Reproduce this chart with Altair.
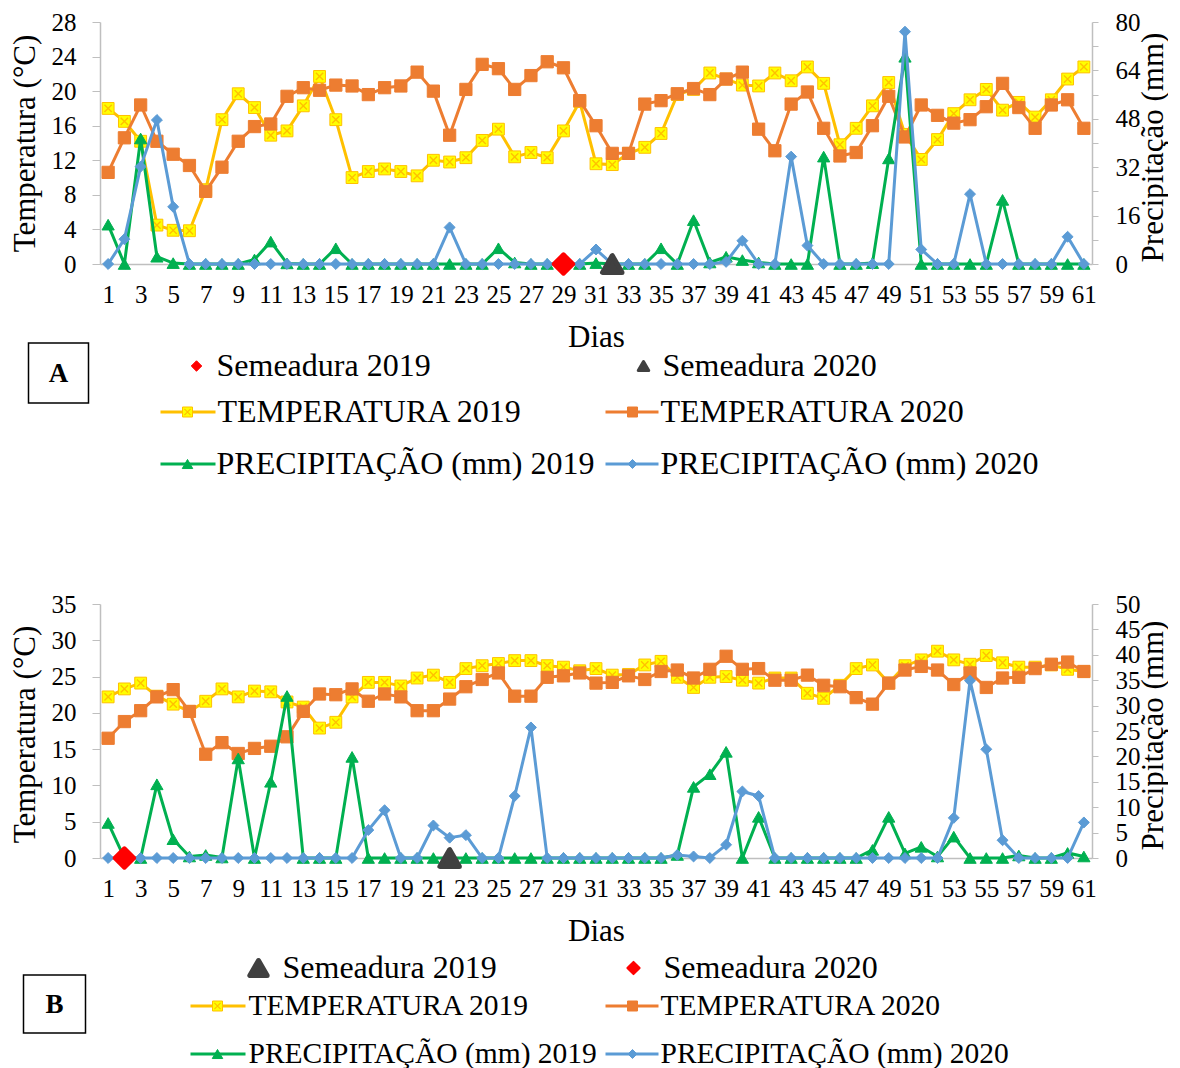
import altair as alt
import pandas as pd

# ---------------- data ----------------
dias = list(range(1, 62))

temp_2019_A = [18.0, 16.5, 14.2, 4.5, 3.9, 3.85, 8.6, 16.7, 19.7, 18.1,
               14.9, 15.4, 18.3, 21.7, 16.7, 10.0, 10.7, 11.0, 10.7, 10.2,
               12.0, 11.8, 12.3, 14.3, 15.6, 12.4, 12.9, 12.3, 15.4, 18.8,
               11.6, 11.5, 12.8, 13.5, 15.1, 19.6, 20.2, 22.1, 21.4, 20.7,
               20.6, 22.1, 21.2, 22.8, 20.9, 13.8, 15.7, 18.3, 21.0, 15.0,
               12.1, 14.4, 17.4, 19.0, 20.2, 17.8, 18.7, 17.0, 19.0, 21.4, 22.8]
temp_2020_A = [10.6, 14.6, 18.4, 14.2, 12.7, 11.4, 8.4, 11.2, 14.2, 15.9,
               16.2, 19.4, 20.4, 20.1, 20.7, 20.6, 19.6, 20.4, 20.6, 22.2,
               20.0, 14.9, 20.2, 23.1, 22.6, 20.2, 21.8, 23.4, 22.7, 18.9,
               16.0, 12.8, 12.8, 18.5, 18.9, 19.7, 20.3, 19.6, 21.4, 22.2,
               15.6, 13.1, 18.5, 19.9, 15.7, 12.5, 12.9, 16.0, 19.4, 14.7,
               18.4, 17.2, 16.3, 16.7, 18.2, 20.9, 18.1, 15.7, 18.4, 19.0, 15.7]
prec_2019_A = [13.0, 0, 41.5, 2.4, 0.3, 0, 0, 0, 0, 1.5,
               7.4, 0.2, 0, 0, 5.2, 0, 0, 0, 0, 0,
               0, 0, 0, 0, 5.2, 0.5, 0, 0, 0, 0,
               0.3, 0, 0, 0, 5.2, 0, 14.5, 0.5, 2.4, 1.3,
               0.5, 0, 0, 0, 35.5, 0, 0, 0.3, 34.9, 68.5,
               0, 0, 0, 0, 0, 21.2, 0, 0, 0, 0, 0]
prec_2020_A = [0, 8.2, 32.2, 47.6, 18.9, 0, 0, 0, 0, 0,
               0, 0, 0, 0, 0, 0, 0, 0, 0, 0,
               0, 12.1, 0, 0, 0, 0, 0, 0, 0, 0,
               4.8, 0, 0, 0, 0, 0, 0, 0, 0.7, 7.7,
               0, 0, 35.5, 6.1, 0, 0, 0, 0, 0, 76.8,
               4.8, 0, 0, 23.1, 0, 0, 0, 0, 0, 9.0, 0]

temp_2019_B = [22.2, 23.3, 24.1, 22.3, 21.2, 20.2, 21.6, 23.3, 22.2, 23.0,
               22.9, 21.5, 20.8, 17.9, 18.7, 22.2, 24.2, 24.2, 23.7, 24.8,
               25.2, 24.2, 26.1, 26.5, 26.8, 27.2, 27.2, 26.5, 26.3, 25.8,
               26.1, 25.2, 25.3, 26.6, 27.1, 24.9, 23.5, 24.9, 25.0, 24.5,
               24.1, 24.8, 24.8, 22.7, 22.0, 23.8, 26.1, 26.6, 24.1, 26.5,
               27.3, 28.5, 27.3, 26.7, 27.9, 26.9, 26.3, 26.3, 26.6, 26.0, 25.7]
temp_2020_B = [16.5, 18.8, 20.3, 22.2, 23.2, 20.2, 14.3, 15.9, 14.4, 15.1,
               15.4, 16.7, 20.2, 22.6, 22.5, 23.3, 21.6, 22.6, 22.2, 20.3,
               20.3, 21.9, 23.6, 24.6, 25.5, 22.3, 22.3, 24.9, 25.1, 25.5,
               24.1, 24.2, 25.1, 24.6, 25.7, 25.9, 24.8, 26.0, 27.8, 26.0,
               26.1, 24.5, 24.5, 25.2, 23.8, 23.6, 22.1, 21.2, 24.1, 25.9,
               26.4, 25.9, 23.9, 25.5, 23.5, 24.8, 24.9, 26.1, 26.7, 27.0, 25.7]
prec_2019_B = [6.9, 0, 0, 14.5, 3.7, 0.3, 0.6, 0.1, 19.6, 0,
               15.0, 31.9, 0, 0, 0, 19.9, 0, 0, 0, 0,
               0, 0, 0, 0, 0, 0, 0, 0, 0, 0,
               0, 0, 0, 0, 0, 0.6, 14.0, 16.5, 20.9, 0,
               8.1, 0, 0, 0, 0, 0, 0, 1.6, 8.1, 0.9,
               2.2, 0.3, 4.2, 0, 0, 0, 0.5, 0, 0, 1.0, 0.3]
prec_2020_B = [0, 0, 0, 0, 0, 0, 0, 0, 0, 0,
               0, 0, 0, 0, 0, 0, 5.5, 9.4, 0, 0,
               6.4, 4.0, 4.5, 0, 0, 12.2, 25.7, 0, 0, 0,
               0, 0, 0, 0, 0, 0.6, 0.3, 0, 2.6, 13.1,
               12.2, 0, 0, 0, 0, 0, 0, 0, 0, 0,
               0, 0, 7.9, 34.9, 21.4, 3.5, 0, 0, 0, 0, 7.0]

# sowing days (marker sits on the zero line)
semeadura_A = {"Semeadura 2019": 29, "Semeadura 2020": 32}
semeadura_B = {"Semeadura 2019": 22, "Semeadura 2020": 2}

x_ticks = list(range(1, 62, 2))
ticks_temp_A = list(range(0, 29, 4))
ticks_prec_A = list(range(0, 81, 8))
ticks_temp_B = list(range(0, 36, 5))
ticks_prec_B = list(range(0, 51, 5))

lbl_sem19 = "Semeadura 2019"
lbl_sem20 = "Semeadura 2020"
lbl_t19 = "TEMPERATURA 2019"
lbl_t20 = "TEMPERATURA 2020"
lbl_p19 = "PRECIPITAÇÃO (mm) 2019"
lbl_p20 = "PRECIPITAÇÃO (mm) 2020"

# ---------------- styles ----------------
FONT = "Liberation Serif"
C_T19 = "#FFC000"
C_T19_FILL = "#FFFF00"
C_T20 = "#ED7D31"
C_P19 = "#00B050"
C_P20 = "#5B9BD5"
C_RED = "#FF0000"
C_DARK = "#404040"
GRAY = "#BFBFBF"
XPATH = "M-0.62,-0.62L0.62,0.62M-0.62,0.62L0.62,-0.62"

W = 992
H_A = 242
H_B = 254
LW = 3


def series(vals):
    return pd.DataFrame({"dia": dias, "valor": vals})


def x_enc():
    return alt.X("dia:Q",
                 scale=alt.Scale(domain=[0.5, 61.5], nice=False, zero=False),
                 axis=alt.Axis(values=x_ticks, format="d", title="Dias",
                               ticks=False, tickSize=0, labelPadding=30,
                               labelBaseline="middle", labelFontSize=25,
                               labelFlush=False, labelOverlap=False,
                               titleFontSize=31, titleFontWeight="normal",
                               titleBaseline="middle", titleY=73,
                               domainColor=GRAY, domainWidth=1.5, grid=False))


def y_left(tmax, ticks, h, ty):
    return alt.Y("valor:Q",
                 scale=alt.Scale(domain=[0, tmax], nice=False),
                 axis=alt.Axis(orient="left", values=ticks, title="Temperatura (°C)",
                               titleFontSize=31, titleFontWeight="normal",
                               titleAngle=270, titleBaseline="alphabetic",
                               titleAlign="center", titleX=-65.5, titleY=ty,
                               labelFontSize=25, tickSize=8, labelPadding=16,
                               tickColor=GRAY, domainColor=GRAY, domainWidth=1.5,
                               grid=False))


def y_right(pmax, ticks, h, ty):
    return alt.Y("valor:Q",
                 scale=alt.Scale(domain=[0, pmax], nice=False),
                 axis=alt.Axis(orient="right", values=ticks, title="Precipitação (mm)",
                               titleFontSize=31, titleFontWeight="normal",
                               titleAngle=270, titleBaseline="alphabetic",
                               titleAlign="center", titleX=70, titleY=ty,
                               labelFontSize=25, tickSize=6, labelPadding=17,
                               tickColor=GRAY, domainColor=GRAY, domainWidth=1.5,
                               grid=False))


def line_with_marker(df, y, color, shape, size, fill=None, stroke=None, extra_x=False):
    base = alt.Chart(df)
    layers = [base.mark_line(color=color, strokeWidth=LW).encode(x=x_enc(), y=y)]
    layers.append(base.mark_point(shape=shape, size=size, filled=True, opacity=1,
                                  fill=fill or color, stroke=stroke or color,
                                  strokeWidth=1).encode(x=x_enc(), y=y))
    if extra_x:
        layers.append(base.mark_point(shape=XPATH, size=size, filled=False, opacity=1,
                                      stroke=C_T19, strokeWidth=1.4).encode(x=x_enc(), y=y))
    return layers


one = pd.DataFrame({"k": [0]})


def txt(label, px, py, size, origin, weight="normal", align="left"):
    return alt.Chart(one).mark_text(text=label, font=FONT, fontSize=size, fontWeight=weight,
                                    align=align, baseline="middle", color="black").encode(
        x=alt.value(px - origin[0]), y=alt.value(py - origin[1]))


def sym(shape, px, py, size, fill, stroke, sw, origin, filled=True):
    return alt.Chart(one).mark_point(shape=shape, size=size, filled=filled, opacity=1,
                                     fill=fill, stroke=stroke, strokeWidth=sw,
                                     strokeJoin="round").encode(
        x=alt.value(px - origin[0]), y=alt.value(py - origin[1]))


def xsym(px, py, size, origin):
    return alt.Chart(one).mark_point(shape=XPATH, size=size, filled=False, opacity=1,
                                     stroke=C_T19, strokeWidth=1.2).encode(
        x=alt.value(px - origin[0]), y=alt.value(py - origin[1]))


def seg(px1, px2, py, color, origin):
    return alt.Chart(one).mark_rule(color=color, strokeWidth=LW).encode(
        x=alt.value(px1 - origin[0]), x2=alt.value(px2 - origin[0]), y=alt.value(py - origin[1]))


def box(px1, py1, px2, py2, origin):
    return alt.Chart(one).mark_rect(fillOpacity=0, stroke="black", strokeWidth=1.5).encode(
        x=alt.value(px1 - origin[0]), x2=alt.value(px2 - origin[0]),
        y=alt.value(py1 - origin[1]), y2=alt.value(py2 - origin[1]))


def panel(t19, t20, p19, p20, tmax, tticks, pmax, pticks, h, sem, origin,
          legend, lty, rty):
    yl = y_left(tmax, tticks, h, lty)
    yr = y_right(pmax, pticks, h, rty)
    temp = alt.layer(
        *line_with_marker(series(t19), yl, C_T19, "square", 140, fill=C_T19_FILL, stroke=C_T19, extra_x=True),
        *line_with_marker(series(t20), yl, C_T20, "square", 150),
    )
    sem_red = pd.DataFrame({"dia": [sem["red"]], "valor": [0]})
    sem_dark = pd.DataFrame({"dia": [sem["dark"]], "valor": [0]})
    prec = alt.layer(
        *line_with_marker(series(p19), yr, C_P19, "triangle-up", 150),
        *line_with_marker(series(p20), yr, C_P20, "diamond", 120),
        alt.Chart(sem_red).mark_point(shape="diamond", size=380, filled=True, opacity=1,
                                      fill=C_RED, stroke=C_RED, strokeWidth=4,
                                      strokeJoin="round").encode(x=x_enc(), y=yr),
        alt.Chart(sem_dark).mark_point(shape="triangle-up", size=380, filled=True, opacity=1,
                                       fill=C_DARK, stroke=C_DARK, strokeWidth=5,
                                       strokeJoin="round").encode(x=x_enc(), y=yr),
    )
    return alt.layer(temp, prec, *legend).resolve_scale(y="independent").properties(width=W, height=h)


# ---------------- legends ----------------
oA = (99.5, 22)
legA = [
    sym("diamond", 196, 366, 110, C_RED, C_RED, 1, oA),
    txt(lbl_sem19, 216, 366, 32, oA),
    sym("triangle-up", 643, 366, 110, C_DARK, C_DARK, 3, oA),
    txt(lbl_sem20, 662, 366, 32, oA),
    seg(160, 215, 412, C_T19, oA),
    sym("square", 187, 412, 100, C_T19_FILL, C_T19, 1, oA),
    xsym(187, 412, 100, oA),
    txt(lbl_t19, 217, 412, 32, oA),
    seg(605, 658, 412, C_T20, oA),
    sym("square", 632, 412, 100, C_T20, C_T20, 1, oA),
    txt(lbl_t20, 660, 412, 32, oA),
    seg(160, 215, 464, C_P19, oA),
    sym("triangle-up", 187, 464, 110, C_P19, C_P19, 1, oA),
    txt(lbl_p19, 216, 464, 32, oA),
    seg(605, 658, 464, C_P20, oA),
    sym("diamond", 632, 464, 80, C_P20, C_P20, 1, oA),
    txt(lbl_p20, 660, 464, 32, oA),
    box(28, 343, 88, 403, oA),
    txt("A", 58, 374, 27, oA, weight="bold", align="center"),
]

oB = (99.5, 604)
legB = [
    sym("triangle-up", 258, 968, 300, C_DARK, C_DARK, 5, oB),
    txt(lbl_sem19, 282, 968, 32, oB),
    sym("diamond", 633, 968, 150, C_RED, C_RED, 2, oB),
    txt(lbl_sem20, 663, 968, 32, oB),
    seg(190, 245, 1006, C_T19, oB),
    sym("square", 217, 1006, 100, C_T19_FILL, C_T19, 1, oB),
    xsym(217, 1006, 100, oB),
    txt(lbl_t19, 248, 1006, 29.5, oB),
    seg(605, 658, 1006, C_T20, oB),
    sym("square", 632, 1006, 100, C_T20, C_T20, 1, oB),
    txt(lbl_t20, 660, 1006, 29.5, oB),
    seg(190, 245, 1054, C_P19, oB),
    sym("triangle-up", 217, 1054, 110, C_P19, C_P19, 1, oB),
    txt(lbl_p19, 248, 1054, 29.5, oB),
    seg(605, 658, 1054, C_P20, oB),
    sym("diamond", 632, 1054, 80, C_P20, C_P20, 1, oB),
    txt(lbl_p20, 660, 1054, 29.5, oB),
    box(23, 975, 85, 1033, oB),
    txt("B", 54, 1005, 27, oB, weight="bold", align="center"),
]

panelA = panel(temp_2019_A, temp_2020_A, prec_2019_A, prec_2020_A, 28, ticks_temp_A,
               80, ticks_prec_A, H_A,
               {"red": semeadura_A["Semeadura 2019"], "dark": semeadura_A["Semeadura 2020"]},
               oA, legA, H_A / 2, 125)
panelB = panel(temp_2019_B, temp_2020_B, prec_2019_B, prec_2020_B, 35, ticks_temp_B,
               50, ticks_prec_B, H_B,
               {"red": semeadura_B["Semeadura 2020"], "dark": semeadura_B["Semeadura 2019"]},
               oB, legB, 130, 131)

chart = alt.vconcat(panelA, panelB, spacing=112).properties(
    padding={"top": 2, "left": 1, "right": 0, "bottom": 0}
).configure(font=FONT).configure_view(stroke=None).configure_axis(
    labelFont=FONT, titleFont=FONT, labelColor="black", titleColor="black")

chart.save("out.html", embed_options={"renderer": "svg", "actions": False})
